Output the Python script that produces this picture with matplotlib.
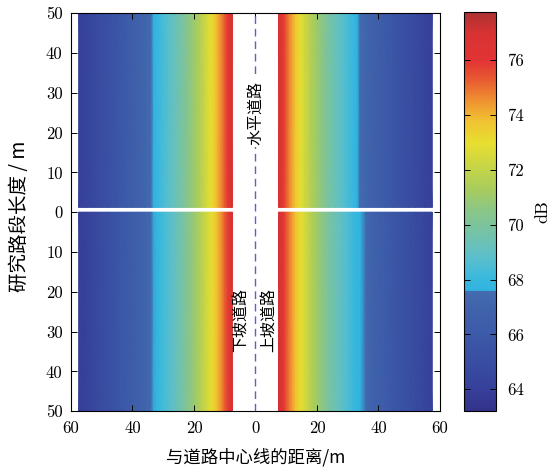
import numpy as np
import matplotlib
matplotlib.use("Agg")
import matplotlib.pyplot as plt
from matplotlib.colors import LinearSegmentedColormap, Normalize

# ---- data ----
dist = [7.5, 8, 9, 10, 11, 12, 13, 14, 15, 16, 18, 20, 22, 24, 26, 28, 30, 32, 33,
        34, 36, 38, 40, 42, 45, 48, 50, 52, 55, 57.5]
level_flat = [77.0, 76.6, 75.9, 75.3, 74.7, 74.2, 73.7, 73.2, 72.8, 72.4, 71.6, 71.0,
              70.4, 69.8, 69.3, 68.8, 68.4, 67.9, 67.7, 67.5, 67.1, 66.8, 66.4, 66.1,
              65.7, 65.2, 65.0, 64.7, 64.3, 64.0]
level_down = [76.9, 76.5, 75.8, 75.2, 74.6, 74.1, 73.6, 73.1, 72.7, 72.3, 71.5, 70.9,
              70.3, 69.7, 69.2, 68.7, 68.3, 67.8, 67.6, 67.4, 67.0, 66.7, 66.3, 66.0,
              65.6, 65.1, 64.9, 64.6, 64.2, 63.9]
level_up = [77.1, 76.7, 76.0, 75.4, 74.8, 74.3, 73.8, 73.3, 72.9, 72.5, 71.7, 71.1,
            70.5, 69.9, 69.4, 68.9, 68.5, 68.0, 67.8, 67.65, 67.2, 66.9, 66.5, 66.2,
            65.8, 65.3, 65.1, 64.8, 64.4, 64.1]
xticks = [-60, -40, -20, 0, 20, 40, 60]
yticks = [-50, -40, -30, -20, -10, 0, 10, 20, 30, 40, 50]
cbticks = [64, 66, 68, 70, 72, 74, 76]
vmin, vmax = 63.2, 77.75

# ---- colormap ----
anchors = [
    (63.2, "#33328a"), (64.0, "#36409a"), (65.0, "#394ea2"), (66.0, "#3c5aa8"),
    (67.0, "#4064ac"), (67.55, "#446cb0"), (67.6, "#30b4e0"), (68.1, "#3cb9dc"),
    (68.8, "#5cbfcc"), (69.6, "#72c2ac"), (70.5, "#8ac688"), (71.3, "#a8cc5c"),
    (72.2, "#cad644"), (73.0, "#e8de30"), (73.8, "#f0c232"), (74.5, "#f09432"),
    (75.3, "#e85a30"), (76.0, "#e23434"), (77.0, "#d83232"), (77.75, "#ae3232"),
]
cmap = LinearSegmentedColormap.from_list(
    "custom", [((v - vmin) / (vmax - vmin), c) for v, c in anchors], N=256)
norm = Normalize(vmin=vmin, vmax=vmax)

serif = ["cmr10", "DejaVu Serif"]
cjk = ["Noto Sans CJK SC", "DejaVu Sans"]

fig = plt.figure(figsize=(5.5, 4.71), dpi=100)
ax = fig.add_axes([0.129, 0.127, 0.671, 0.845])
cax = fig.add_axes([0.844, 0.127, 0.058, 0.847])

d = np.array(dist)

def strip(xs, vals, y0, y1):
    X, Y = np.meshgrid(xs, [y0, y1])
    Z = np.vstack([vals, vals])
    return ax.pcolormesh(X, Y, Z, shading="gouraud", cmap=cmap, norm=norm)

# top half: horizontal road (both sides)
strip(-d[::-1], np.array(level_flat)[::-1], 1.2, 50)
m = strip(d, np.array(level_flat), 1.2, 50)
# bottom half: downhill (left), uphill (right)
strip(-d[::-1], np.array(level_down)[::-1], -50, 0)
strip(d, np.array(level_up), -50, 0)

ax.plot([0, 0], [-50, 50], color="#5464cc", lw=1.0, linestyle=(0, (5.5, 3.5)))

ax.text(0, 25, "水平道路", rotation=90, ha="center", va="center", fontsize=11.5,
        family=cjk, bbox=dict(facecolor="white", edgecolor="none", pad=2))
ax.text(-4.6, -27, "下坡道路", rotation=90, ha="center", va="center",
        fontsize=11.5, family=cjk)
ax.text(4.4, -27, "上坡道路", rotation=90, ha="center", va="center",
        fontsize=11.5, family=cjk)

ax.set_xlim(-60, 60)
ax.set_ylim(-50, 50)
ax.set_xticks(xticks)
ax.set_xticklabels([str(abs(v)) for v in xticks], family=serif, fontsize=12)
ax.set_yticks(yticks)
ax.set_yticklabels([str(abs(v)) for v in yticks], family=serif, fontsize=12)
ax.tick_params(direction="in", top=True, right=True, length=4, width=0.7)
ax.tick_params(axis="x", pad=7)
ax.tick_params(axis="y", pad=6)
ax.set_xlabel("与道路中心线的距离/m", family=cjk, fontsize=12.5)
ax.set_ylabel("研究路段长度 / m", family=cjk, fontsize=14)
ax.xaxis.set_label_coords(0.5, -0.092)
ax.yaxis.set_label_coords(-0.112, 0.49)
for s in ax.spines.values():
    s.set_linewidth(0.8)

cb = fig.colorbar(m, cax=cax)
cb.set_ticks(cbticks)
cb.ax.set_yticklabels([str(v) for v in cbticks], family=serif, fontsize=12)
cb.ax.tick_params(direction="in", left=True, right=True, length=4, width=0.7, pad=8)
cb.set_label("dB", family=serif, fontsize=13, labelpad=8)
cb.outline.set_linewidth(0.8)

fig.savefig("out.png", dpi=100)
